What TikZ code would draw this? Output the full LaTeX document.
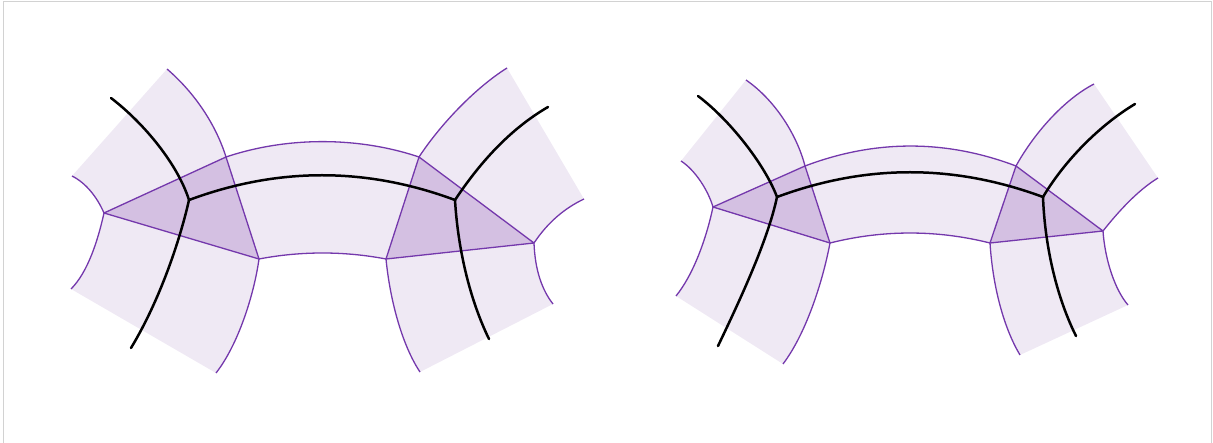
\documentclass[tikz,border=0pt]{standalone}
\definecolor{lightfill}{RGB}{239,233,244}
\definecolor{darkfill}{RGB}{212,192,226}
\definecolor{edgepurple}{RGB}{116,56,172}
\definecolor{framegray}{RGB}{210,210,210}
\tikzset{
  armfill/.style={fill=lightfill, draw=none},
  trifill/.style={fill=darkfill, draw=edgepurple, line width=1.3pt, line join=round},
  edgeline/.style={draw=edgepurple, line width=1.3pt},
  seam/.style={draw=black, line width=2.5pt, line cap=round},
  frameline/.style={draw=framegray, line width=1pt}
}
\begin{document}
\begin{tikzpicture}[x=1pt,y=-1pt]
\useasboundingbox (0,0) rectangle (1213,443);
\draw[frameline] (3.5,450) -- (3.5,1.5) -- (1211.5,1.5) -- (1211.5,450);

% ===================== left figure =====================
\coordinate (A) at (104,213);
\coordinate (B) at (226,157);
\coordinate (C) at (259,259);
\coordinate (J) at (189,200);
\coordinate (D) at (419,157);
\coordinate (E) at (534,243);
\coordinate (F) at (386,259);
\coordinate (K) at (455,200);
\coordinate (ltA) at (72,176);
\coordinate (ltB) at (167,69);
\coordinate (lbA) at (71,289);
\coordinate (lbC) at (216,373);
\coordinate (rtD) at (507,68);
\coordinate (rtE) at (584,199);
\coordinate (rbF) at (420,372);
\coordinate (rbE) at (553,304);
\coordinate (sLT) at (111,98);
\coordinate (sLB) at (131,348);
\coordinate (sRT) at (548,107);
\coordinate (sRB) at (489,339);

% fills
\path[armfill] (A) .. controls (97,197) and (86,183) .. (ltA) -- (ltB)
  .. controls (195,93) and (216,125) .. (B) -- cycle;
\path[armfill] (A) .. controls (98,240) and (88,272) .. (lbA) -- (lbC)
  .. controls (238,345) and (254,295) .. (C) -- cycle;
\path[armfill] (D) .. controls (440,125) and (475,88) .. (rtD) -- (rtE)
  .. controls (565,208) and (548,222) .. (E) -- cycle;
\path[armfill] (F) .. controls (390,300) and (402,345) .. (rbF) -- (rbE)
  .. controls (542,290) and (535,270) .. (E) -- cycle;
\path[armfill] (B) .. controls (287,136.5) and (358,136.5) .. (D) -- (F)
  .. controls (344,251) and (301,251) .. (C) -- cycle;
\path[trifill] (A) -- (B) -- (C) -- cycle;
\path[trifill] (D) -- (E) -- (F) -- cycle;

% purple edges
\draw[edgeline] (A) .. controls (97,197) and (86,183) .. (ltA);
\draw[edgeline] (B) .. controls (216,125) and (195,93) .. (ltB);
\draw[edgeline] (A) .. controls (98,240) and (88,272) .. (lbA);
\draw[edgeline] (C) .. controls (254,295) and (238,345) .. (lbC);
\draw[edgeline] (D) .. controls (440,125) and (475,88) .. (rtD);
\draw[edgeline] (E) .. controls (548,222) and (565,208) .. (rtE);
\draw[edgeline] (F) .. controls (390,300) and (402,345) .. (rbF);
\draw[edgeline] (E) .. controls (535,270) and (542,290) .. (rbE);
\draw[edgeline] (B) .. controls (287,136.5) and (358,136.5) .. (D);
\draw[edgeline] (C) .. controls (301,251) and (344,251) .. (F);

% black seams
\draw[seam] (sLT) .. controls (145,124) and (178,165) .. (J);
\draw[seam] (J) .. controls (180,240) and (160,300) .. (sLB);
\draw[seam] (J) .. controls (278,167) and (366,167) .. (K);
\draw[seam] (K) .. controls (475,170) and (505,132) .. (sRT);
\draw[seam] (K) .. controls (458,250) and (470,300) .. (sRB);

% ===================== right figure =====================
\coordinate (A2) at (713,207);
\coordinate (B2) at (805,166);
\coordinate (C2) at (830,243);
\coordinate (J2) at (777,197);
\coordinate (D2) at (1016,166);
\coordinate (E2) at (1103,231);
\coordinate (F2) at (990,243);
\coordinate (K2) at (1043,197);
\coordinate (ltA2) at (681,161);
\coordinate (ltB2) at (746,80);
\coordinate (lbA2) at (676,296);
\coordinate (lbC2) at (783,364);
\coordinate (rtD2) at (1094,84);
\coordinate (rtE2) at (1158,178);
\coordinate (rbF2) at (1020,355);
\coordinate (rbE2) at (1128,305);
\coordinate (sLT2) at (698,96);
\coordinate (sLB2) at (718,346);
\coordinate (sRT2) at (1135,104);
\coordinate (sRB2) at (1076,336);

% fills
\path[armfill] (A2) .. controls (708,190) and (695,170) .. (ltA2) -- (ltB2)
  .. controls (775,100) and (797,135) .. (B2) -- cycle;
\path[armfill] (A2) .. controls (706,240) and (693,275) .. (lbA2) -- (lbC2)
  .. controls (805,335) and (822,285) .. (C2) -- cycle;
\path[armfill] (D2) .. controls (1033,135) and (1063,100) .. (rtD2) -- (rtE2)
  .. controls (1138,190) and (1118,212) .. (E2) -- cycle;
\path[armfill] (F2) .. controls (993,290) and (1005,330) .. (rbF2) -- (rbE2)
  .. controls (1115,290) and (1105,260) .. (E2) -- cycle;
\path[armfill] (B2) .. controls (875,139.4) and (946,139.4) .. (D2) -- (F2)
  .. controls (937,229.7) and (883,229.7) .. (C2) -- cycle;
\path[trifill] (A2) -- (B2) -- (C2) -- cycle;
\path[trifill] (D2) -- (E2) -- (F2) -- cycle;

% purple edges
\draw[edgeline] (A2) .. controls (708,190) and (695,170) .. (ltA2);
\draw[edgeline] (B2) .. controls (797,135) and (775,100) .. (ltB2);
\draw[edgeline] (A2) .. controls (706,240) and (693,275) .. (lbA2);
\draw[edgeline] (C2) .. controls (822,285) and (805,335) .. (lbC2);
\draw[edgeline] (D2) .. controls (1033,135) and (1063,100) .. (rtD2);
\draw[edgeline] (E2) .. controls (1118,212) and (1138,190) .. (rtE2);
\draw[edgeline] (F2) .. controls (993,290) and (1005,330) .. (rbF2);
\draw[edgeline] (E2) .. controls (1105,260) and (1115,290) .. (rbE2);
\draw[edgeline] (B2) .. controls (875,139.4) and (946,139.4) .. (D2);
\draw[edgeline] (C2) .. controls (883,229.7) and (937,229.7) .. (F2);

% black seams
\draw[seam] (sLT2) .. controls (730,120) and (765,165) .. (J2);
\draw[seam] (J2) .. controls (768,240) and (740,300) .. (sLB2);
\draw[seam] (J2) .. controls (866,164) and (954,164) .. (K2);
\draw[seam] (K2) .. controls (1065,160) and (1100,125) .. (sRT2);
\draw[seam] (K2) .. controls (1045,250) and (1058,300) .. (sRB2);
\end{tikzpicture}
\end{document}
